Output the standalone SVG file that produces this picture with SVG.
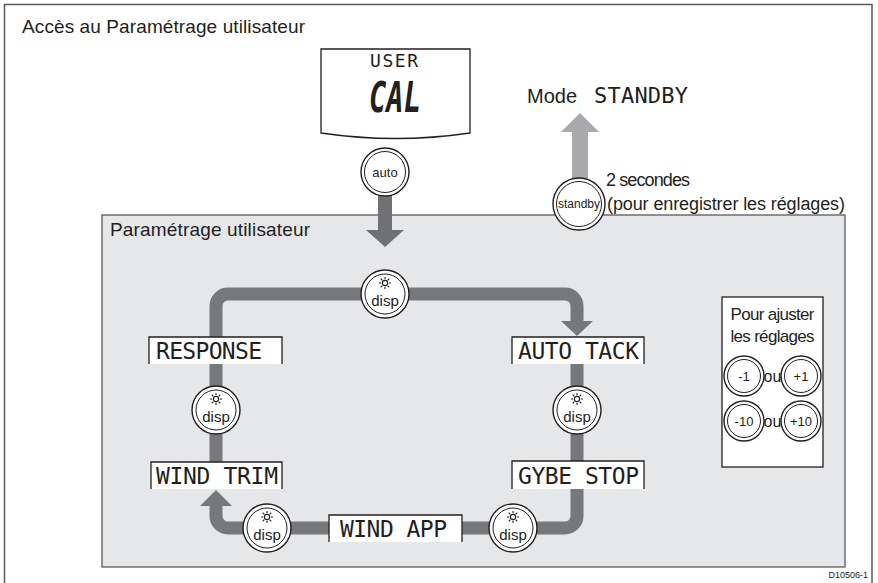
<svg xmlns="http://www.w3.org/2000/svg" xmlns:xlink="http://www.w3.org/1999/xlink" width="878" height="583" viewBox="0 0 878 583">
<style>
.frame{fill:none;stroke:#58595b;stroke-width:1.5}
.panel{fill:#e6e7e8;stroke:#58595b;stroke-width:1.3}
.wbox{fill:#fff;stroke:#231f20;stroke-width:1.3}
.btno{fill:#fff;stroke:#231f20;stroke-width:1.4}
.btni{fill:none;stroke:#231f20;stroke-width:1}
.lcd{fill:#fff}
.lcdedge{fill:none;stroke:#231f20;stroke-width:1.3}
.lcdtxt{font-family:"DejaVu Sans Mono","Liberation Mono",monospace;fill:#231f20}
.lbl{font-family:"Liberation Sans",Arial,sans-serif;fill:#231f20}
.btxt{font-family:"Liberation Sans",Arial,sans-serif;fill:#231f20;text-anchor:middle}
.band{fill:none;stroke:#77787b;stroke-width:13}
.head{fill:#77787b}
</style>
<defs>
<g id="sun" fill="none" stroke="#231f20" stroke-width="1.1">
<circle cx="0" cy="0" r="2.6"/>
<path d="M0,-3.8V-6M0,3.8V6M-3.8,0H-6M3.8,0H6M2.7,-2.7L4.3,-4.3M-2.7,-2.7L-4.3,-4.3M2.7,2.7L4.3,4.3M-2.7,2.7L-4.3,4.3"/>
</g>
</defs>

<rect class="frame" x="4.5" y="4.5" width="867.5" height="600"/>
<text class="lbl" x="22" y="33" font-size="19" textLength="283">Accès au Paramétrage utilisateur</text>

<g id="panel">
<rect class="panel" x="102" y="215" width="743" height="352"/>
<text class="lbl" x="110" y="236" font-size="19" textLength="200">Paramétrage utilisateur</text>
</g>

<g id="connectors">
<path class="band" d="M216,463 V306 A12,12 0 0 1 228,294 H565 A12,12 0 0 1 577,306 V323"/>
<polygon class="head" points="561,321 593,321 577,336"/>
<path class="band" d="M577,364 V516 A12,12 0 0 1 565,528 H228 A12,12 0 0 1 216,516 V504"/>
<polygon class="head" points="200,506 232,506 216,490"/>
<rect x="378" y="193" width="14" height="38" fill="#707174"/>
<polygon points="366,230 404,230 385,247" fill="#707174"/>
<rect x="572" y="130" width="16" height="52" fill="#a7a9ac"/>
<polygon points="561,132 599,132 580,113" fill="#a7a9ac"/>
</g>

<g id="display-usercal">
<path class="wbox" d="M321,49 H470 V133 Q395.5,144 321,133 Z"/>
<text class="lcdtxt" x="394" y="67" style="font-size:18px" text-anchor="middle" textLength="48">USER</text>
<text class="lcdtxt" x="395" y="112" style="font-size:42px;font-weight:bold;font-style:oblique" text-anchor="middle" textLength="52" lengthAdjust="spacingAndGlyphs">CAL</text>
</g>

<g id="btn-auto">
<circle class="btno" cx="385" cy="172" r="24"/>
<circle class="btni" cx="385" cy="172" r="20.5"/>
<text class="btxt" x="385" y="176.5" font-size="13">auto</text>
</g>

<g id="mode-standby">
<text class="lbl" x="527" y="103" font-size="20">Mode</text>
<text class="lcdtxt" x="594" y="103" style="font-size:22px" textLength="94">STANDBY</text>
</g>

<g id="btn-standby">
<circle class="btno" cx="579" cy="204" r="26"/>
<circle class="btni" cx="579" cy="204" r="22.5"/>
<text class="btxt" x="579" y="208" font-size="12">standby</text>
</g>
<text class="lbl" x="606" y="186" font-size="18" textLength="84">2 secondes</text>
<text class="lbl" x="607" y="210" font-size="18" textLength="238">(pour enregistrer les réglages)</text>

<g id="disp-top">
<circle class="btno" cx="385" cy="294" r="24"/>
<circle class="btni" cx="385" cy="294" r="20"/>
<use xlink:href="#sun" x="385" y="283"/>
<text class="btxt" x="385" y="306" font-size="15">disp</text>
</g>

<g id="lcd-response">
<rect class="lcd" x="149" y="337" width="133" height="27"/>
<path class="lcdedge" d="M149,364 V337 H282 V364"/>
<text class="lcdtxt" x="156" y="359" style="font-size:23px" textLength="106">RESPONSE</text>
</g>

<g id="disp-left">
<circle class="btno" cx="216" cy="410" r="24"/>
<circle class="btni" cx="216" cy="410" r="20"/>
<use xlink:href="#sun" x="216" y="399"/>
<text class="btxt" x="216" y="422" font-size="15">disp</text>
</g>

<g id="lcd-windtrim">
<rect class="lcd" x="151" y="462" width="131" height="27"/>
<path class="lcdedge" d="M151,489 V462 H282 V489"/>
<text class="lcdtxt" x="156" y="484" style="font-size:23px" textLength="122">WIND TRIM</text>
</g>

<g id="disp-bottom-left">
<circle class="btno" cx="267" cy="528" r="24"/>
<circle class="btni" cx="267" cy="528" r="20"/>
<use xlink:href="#sun" x="267" y="517"/>
<text class="btxt" x="267" y="540" font-size="15">disp</text>
</g>

<g id="lcd-windapp">
<rect class="lcd" x="329" y="515" width="133" height="27"/>
<path class="lcdedge" d="M329,542 V515 H462 V542"/>
<text class="lcdtxt" x="340" y="537" style="font-size:23px" textLength="107">WIND APP</text>
</g>

<g id="disp-bottom-right">
<circle class="btno" cx="513" cy="528" r="24"/>
<circle class="btni" cx="513" cy="528" r="20"/>
<use xlink:href="#sun" x="513" y="517"/>
<text class="btxt" x="513" y="540" font-size="15">disp</text>
</g>

<g id="lcd-autotack">
<rect class="lcd" x="512" y="337" width="132" height="27"/>
<path class="lcdedge" d="M512,364 V337 H644 V364"/>
<text class="lcdtxt" x="518" y="359" style="font-size:23px" textLength="121">AUTO TACK</text>
</g>

<g id="disp-right">
<circle class="btno" cx="577" cy="410" r="24"/>
<circle class="btni" cx="577" cy="410" r="20"/>
<use xlink:href="#sun" x="577" y="399"/>
<text class="btxt" x="577" y="422" font-size="15">disp</text>
</g>

<g id="lcd-gybestop">
<rect class="lcd" x="512" y="461" width="132" height="28"/>
<path class="lcdedge" d="M512,489 V461 H644 V489"/>
<text class="lcdtxt" x="518" y="484" style="font-size:23px" textLength="121">GYBE STOP</text>
</g>

<g id="adjust-box">
<rect class="wbox" x="722" y="297" width="101" height="170"/>
<text class="btxt" x="772.5" y="320" font-size="17" textLength="84">Pour ajuster</text>
<text class="btxt" x="772.5" y="342" font-size="17" textLength="84">les réglages</text>
<circle class="btno" cx="744" cy="376" r="20"/>
<circle class="btni" cx="744" cy="376" r="16.5"/>
<text class="btxt" x="744" y="381" font-size="13">-1</text>
<text class="btxt" x="772.5" y="382" font-size="16">ou</text>
<circle class="btno" cx="801" cy="376" r="20"/>
<circle class="btni" cx="801" cy="376" r="16.5"/>
<text class="btxt" x="801" y="381" font-size="13">+1</text>
<circle class="btno" cx="744" cy="421" r="20"/>
<circle class="btni" cx="744" cy="421" r="16.5"/>
<text class="btxt" x="744" y="426" font-size="13">-10</text>
<text class="btxt" x="772.5" y="427" font-size="16">ou</text>
<circle class="btno" cx="801" cy="421" r="20"/>
<circle class="btni" cx="801" cy="421" r="16.5"/>
<text class="btxt" x="801" y="426" font-size="13">+10</text>
</g>

<text class="lbl" x="868" y="578" font-size="9" text-anchor="end">D10506-1</text>
</svg>
